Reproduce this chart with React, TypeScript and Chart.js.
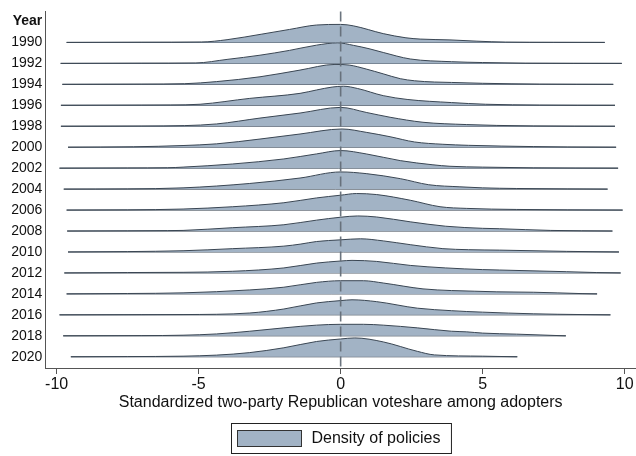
import React, { useEffect, useRef } from "react";
import { Chart, registerables } from "chart.js";

Chart.register(...registerables);

// Years shown as rows (top to bottom)
const years = [1990, 1992, 1994, 1996, 1998, 2000, 2002, 2004, 2006, 2008, 2010, 2012, 2014, 2016, 2018, 2020];
const xTicks = [-10, -5, 0, 5, 10];
const xTitle = "Standardized two-party Republican voteshare among adopters";
const legendLabel = "Density of policies";

// Density curves: [x, density (in row-height units)]
const d1990 = [[-9.65, 0], [-7, 0.01], [-4.9, 0.02], [-4, 0.13], [-2.8, 0.39], [-1.8, 0.62], [-0.85, 0.83], [0, 0.86], [0.45, 0.79], [1.5, 0.42], [2.3, 0.22], [2.8, 0.16], [3.85, 0.12], [4.8, 0.06], [5.8, 0.015], [7.5, 0.005], [9.3, 0]];
const d1992 = [[-9.86, 0], [-7, 0.01], [-5.1, 0.02], [-4, 0.19], [-2.84, 0.39], [-1.8, 0.62], [-0.85, 0.87], [-0.1, 0.98], [0.45, 0.86], [1.0, 0.7], [1.5, 0.52], [2.45, 0.21], [3.9, 0.08], [5, 0.04], [6.5, 0.01], [9.9, 0]];
const d1994 = [[-9.8, 0], [-7, 0.01], [-5.5, 0.03], [-4.37, 0.13], [-2.84, 0.36], [-1.43, 0.68], [-0.2, 0.95], [0.3, 0.92], [0.9, 0.73], [1.5, 0.5], [2.1, 0.27], [2.6, 0.17], [3.3, 0.11], [3.9, 0.09], [5, 0.05], [7, 0.01], [9.6, 0]];
const d1996 = [[-9.85, 0], [-7, 0.01], [-6, 0.015], [-4.95, 0.05], [-3.2, 0.33], [-1.43, 0.57], [-0.85, 0.73], [-0.3, 0.87], [0.1, 0.91], [0.6, 0.8], [1.5, 0.46], [2.34, 0.28], [3.9, 0.13], [5.1, 0.05], [7, 0.01], [9.66, 0]];
const d1998 = [[-9.85, 0], [-7, 0.01], [-5.5, 0.03], [-4.37, 0.11], [-2.84, 0.39], [-1.43, 0.63], [0, 0.9], [0.9, 0.66], [1.74, 0.43], [2.9, 0.19], [4.44, 0.08], [5.5, 0.04], [6.8, 0.015], [9.66, 0]];
const d2000 = [[-9.6, 0], [-7.3, 0.02], [-5.55, 0.08], [-4.37, 0.16], [-2.84, 0.39], [-1.43, 0.63], [0.05, 0.87], [0.9, 0.71], [1.74, 0.5], [2.6, 0.25], [3.6, 0.14], [4.5, 0.09], [6.8, 0.03], [8, 0.01], [9.7, 0]];
const d2002 = [[-9.9, 0], [-7.5, 0.01], [-6.1, 0.02], [-5.55, 0.05], [-3.8, 0.2], [-2.0, 0.44], [-0.85, 0.68], [0, 0.84], [0.9, 0.68], [2.1, 0.36], [3.25, 0.16], [3.85, 0.09], [5, 0.05], [6.8, 0.015], [9.77, 0]];
const d2004 = [[-9.75, 0], [-7.5, 0.01], [-5.55, 0.06], [-3.2, 0.27], [-1.43, 0.53], [0, 0.82], [0.9, 0.74], [2.1, 0.5], [3.1, 0.21], [4.2, 0.11], [5, 0.06], [6.2, 0.03], [8, 0.01], [9.4, 0]];
const d2006 = [[-9.65, 0], [-7.5, 0.01], [-5.55, 0.05], [-3.8, 0.16], [-2.0, 0.35], [-0.85, 0.58], [0, 0.71], [0.56, 0.79], [1.27, 0.74], [2.45, 0.47], [3.5, 0.16], [4.44, 0.08], [6.2, 0.03], [8, 0.01], [9.93, 0]];
const d2008 = [[-9.63, 0], [-7.5, 0.01], [-6.1, 0.02], [-5.55, 0.03], [-3.8, 0.16], [-2.0, 0.3], [-0.85, 0.52], [0, 0.66], [0.6, 0.72], [1.27, 0.67], [2.45, 0.44], [3.7, 0.23], [5, 0.13], [5.6, 0.11], [7.4, 0.03], [9.57, 0]];
const d2010 = [[-9.6, 0], [-7.5, 0.02], [-5.55, 0.06], [-3.8, 0.16], [-2.0, 0.28], [-1.4, 0.38], [-0.85, 0.5], [0, 0.58], [0.7, 0.63], [1.5, 0.53], [2.45, 0.35], [3.6, 0.16], [4.5, 0.11], [5.6, 0.09], [7.96, 0.03], [9.8, 0]];
const d2012 = [[-9.73, 0], [-7.5, 0.02], [-5.55, 0.03], [-3.8, 0.08], [-2.0, 0.24], [-0.85, 0.47], [0, 0.57], [0.4, 0.6], [1.27, 0.55], [2.45, 0.36], [3.7, 0.24], [5, 0.16], [5.6, 0.14], [7.96, 0.06], [9, 0.02], [9.86, 0]];
const d2014 = [[-9.65, 0], [-7.5, 0.02], [-5.55, 0.05], [-3.2, 0.19], [-2.0, 0.32], [-0.85, 0.55], [0, 0.63], [0.8, 0.63], [1.5, 0.52], [2.9, 0.24], [3.9, 0.16], [4.7, 0.13], [5.5, 0.1], [6.8, 0.08], [8.5, 0.015], [9.03, 0]];
const d2016 = [[-9.9, 0], [-7, 0.01], [-5.55, 0.015], [-3.2, 0.09], [-2.0, 0.28], [-0.85, 0.57], [0, 0.68], [0.4, 0.72], [1.27, 0.63], [2.7, 0.32], [3.9, 0.2], [4.44, 0.16], [5, 0.13], [6.8, 0.05], [8.5, 0.015], [9.5, 0]];
const d2018 = [[-9.77, 0], [-7, 0.01], [-5.55, 0.03], [-4.37, 0.09], [-3.2, 0.22], [-2.0, 0.38], [-0.85, 0.51], [0, 0.55], [0.8, 0.55], [1.5, 0.51], [2.7, 0.38], [3.9, 0.22], [4.44, 0.19], [5, 0.13], [6.2, 0.08], [7.93, 0]];
const d2020 = [[-9.5, 0], [-7.5, 0.01], [-5.55, 0.03], [-4.37, 0.08], [-3.2, 0.2], [-2.0, 0.43], [-0.85, 0.73], [0, 0.85], [0.5, 0.9], [1.5, 0.71], [2.7, 0.26], [3.3, 0.09], [5, 0.03], [6.22, 0]];

const densities = [d1990, d1992, d1994, d1996, d1998, d2000, d2002, d2004, d2006, d2008, d2010, d2012, d2014, d2016, d2018, d2020];

const FILL = "#a2b3c5";
const LINE = "#3a4653";
const AXIS = "#555555";
const TEXT = "#111111";
const FONT = "'Liberation Sans', Arial, Helvetica, sans-serif";

export default function App() {
  const ref = useRef<HTMLCanvasElement>(null);

  useEffect(() => {
    const canvas = ref.current;
    if (!canvas) return;
    const n = years.length;
    const datasets: any[] = [];
    years.forEach((yr, i) => {
      const base = n - 1 - i;
      const pts = densities[i];
      datasets.push({
        label: legendLabel,
        data: pts.map(([x, h]) => ({ x, y: base + h })),
        fill: { value: base },
        backgroundColor: FILL,
        borderColor: LINE,
        borderWidth: 1,
        pointRadius: 0,
        cubicInterpolationMode: "monotone",
      });
      datasets.push({
        label: "_base" + yr,
        data: [
          { x: pts[0][0], y: base },
          { x: pts[pts.length - 1][0], y: base },
        ],
        fill: false,
        borderColor: LINE,
        borderWidth: 1,
        pointRadius: 0,
      });
    });

    const overlay = {
      id: "overlay",
      afterDatasetsDraw(chart: any) {
        const { ctx, chartArea, scales } = chart;
        const x0 = scales.x.getPixelForValue(0);
        ctx.save();
        ctx.strokeStyle = "rgba(100,110,120,0.95)";
        ctx.lineWidth = 1.6;
        ctx.setLineDash([10, 5]);
        ctx.beginPath();
        ctx.moveTo(x0, chartArea.top);
        ctx.lineTo(x0, chartArea.bottom);
        ctx.stroke();
        ctx.restore();
      },
      afterDraw(chart: any) {
        const { ctx, chartArea } = chart;
        ctx.save();
        ctx.font = `16px ${FONT}`;
        const tw = ctx.measureText(legendLabel).width;
        const padL = 6, sw = 64, gap = 10, padR = 11;
        const boxW = padL + sw + gap + tw + padR;
        const boxH = 30;
        const cx = (chartArea.left + chartArea.right) / 2;
        const left = Math.round(cx - boxW / 2) + 0.5;
        const top = 423.5;
        ctx.strokeStyle = "#222";
        ctx.lineWidth = 1;
        ctx.strokeRect(left, top, boxW, boxH);
        ctx.fillStyle = FILL;
        ctx.fillRect(left + padL, top + 7, sw, 16);
        ctx.strokeStyle = "#333";
        ctx.strokeRect(left + padL, top + 7, sw, 16);
        ctx.fillStyle = TEXT;
        ctx.textBaseline = "middle";
        ctx.textAlign = "left";
        ctx.fillText(legendLabel, left + padL + sw + gap, top + boxH / 2);
        ctx.restore();
      },
    };

    const chart = new Chart(canvas, {
      type: "line",
      data: { datasets },
      options: {
        animation: false,
        responsive: false,
        devicePixelRatio: 1,
        layout: { padding: { top: 8, right: 0, bottom: 44, left: 0 } },
        plugins: {
          legend: { display: false },
          tooltip: { enabled: false },
        },
        scales: {
          x: {
            type: "linear",
            min: -10.4,
            max: 10.4,
            afterBuildTicks: (s: any) => {
              s.ticks = xTicks.map((v) => ({ value: v }));
            },
            afterFit: (s: any) => {
              s.height = 44;
            },
            grid: { drawOnChartArea: false, drawTicks: true, tickLength: 6, color: AXIS },
            border: { display: true, color: AXIS, width: 1 },
            ticks: { padding: 1, color: TEXT, font: { family: FONT, size: 16 }, maxRotation: 0, autoSkip: false },
            title: { display: true, text: xTitle, color: TEXT, font: { family: FONT, size: 16 }, padding: 0 },
          },
          y: {
            type: "linear",
            min: -0.535,
            max: 16.48,
            afterBuildTicks: (s: any) => {
              s.ticks = Array.from({ length: n + 1 }, (_, i) => ({ value: i }));
            },
            afterFit: (s: any) => {
              s.width = 45.3;
            },
            grid: { display: false, drawTicks: false },
            border: { display: true, color: AXIS, width: 1 },
            ticks: {
              padding: 3,
              color: TEXT,
              autoSkip: false,
              font: (c: any) => ({
                family: FONT,
                size: 14,
                weight: c.tick && c.tick.value === n ? "bold" : "normal",
              }),
              callback: (v: any) => (v === n ? "Year" : String(years[n - 1 - v])),
            },
          },
        },
      },
      plugins: [overlay],
    } as any);

    return () => chart.destroy();
  }, []);

  return (
    <div style={{ position: "fixed", left: 0, top: 0, width: 636, height: 456, background: "#fff" }}>
      <canvas ref={ref} width={636} height={456} style={{ width: 636, height: 456, display: "block" }} />
    </div>
  );
}
